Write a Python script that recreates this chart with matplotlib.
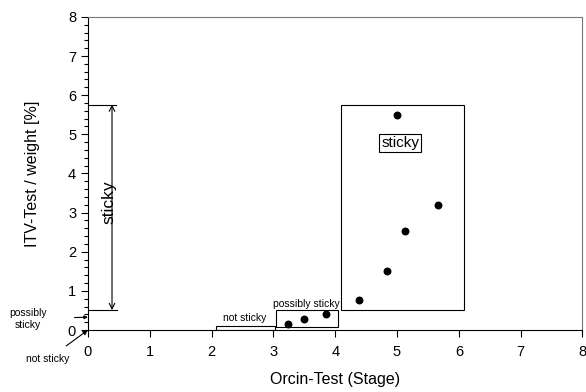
import matplotlib
matplotlib.use('Agg')
import matplotlib.pyplot as plt
from matplotlib.patches import Rectangle
from matplotlib.ticker import MultipleLocator

plt.rcParams['font.family'] = ['Liberation Sans', 'DejaVu Sans']

# data
orcin = [3.23, 3.50, 3.85, 4.39, 4.84, 5.13, 5.66, 5.00]
itv = [0.15, 0.28, 0.40, 0.77, 1.51, 2.54, 3.19, 5.49]

# classification boxes: (x0, y0, x1, y1)
box_not = (2.07, 0.0, 3.02, 0.11)
box_poss = (3.04, 0.09, 4.05, 0.50)
box_sticky = (4.10, 0.51, 6.09, 5.76)

fig = plt.figure(figsize=(5.86, 3.92), dpi=100)
ax = fig.add_axes([0.150, 0.158, 0.844, 0.799])

ax.scatter(orcin, itv, s=22, color='black', zorder=3)

for (x0, y0, x1, y1) in [box_not, box_poss, box_sticky]:
    ax.add_patch(Rectangle((x0, y0), x1 - x0, y1 - y0, fill=False,
                           edgecolor='black', lw=0.8))

ax.text(2.53, 0.17, 'not sticky', fontsize=7.5, ha='center', va='bottom')
ax.text(3.53, 0.55, 'possibly sticky', fontsize=7.5, ha='center', va='bottom')
ax.text(5.05, 4.77, 'sticky', fontsize=11, ha='center', va='center',
        bbox=dict(boxstyle='square,pad=0.12', fc='white', ec='black', lw=0.8))

# bracket on the left for the "sticky" range
ax.plot([0, 0.45], [5.76, 5.76], color='black', lw=0.8)
ax.plot([0, 0.47], [0.51, 0.51], color='black', lw=0.8)
ax.annotate('', xy=(0.39, 5.76), xytext=(0.39, 0.51),
            arrowprops=dict(arrowstyle='<->', lw=0.8, color='black',
                            shrinkA=0, shrinkB=0))
ax.text(0.34, 3.26, 'sticky', rotation=90, fontsize=12.5, ha='center', va='center')

# markers outside the axes
ax.annotate('possibly\nsticky', xy=(0, 0.33), xytext=(-0.97, 0.28),
            fontsize=7.5, ha='center', va='center', annotation_clip=False,
            arrowprops=dict(arrowstyle='-|>', lw=0.8, color='black',
                            shrinkA=18, shrinkB=0, mutation_scale=5))
ax.annotate('not sticky', xy=(0, 0), xytext=(-0.65, -0.75),
            fontsize=7.5, ha='center', va='center', annotation_clip=False,
            arrowprops=dict(arrowstyle='-|>', lw=0.8, color='black',
                            shrinkA=7, shrinkB=0, mutation_scale=7))

ax.set_xlim(0, 8)
ax.set_ylim(0, 8)
ax.xaxis.set_major_locator(MultipleLocator(1))
ax.yaxis.set_major_locator(MultipleLocator(1))
ax.yaxis.set_minor_locator(MultipleLocator(0.2))
ax.tick_params(axis='both', labelsize=10.5, direction='out', length=5, width=0.8)
ax.tick_params(axis='y', which='minor', length=3, width=0.8)
ax.tick_params(axis='x', pad=6)

for side in ['top', 'right']:
    ax.spines[side].set_color('#777777')
for side in ['left', 'bottom']:
    ax.spines[side].set_linewidth(0.8)

ax.set_xlabel('Orcin-Test (Stage)', fontsize=11.5, labelpad=9)
ax.set_ylabel('ITV-Test / weight [%]', fontsize=11.5, labelpad=20)

fig.savefig('out.png', dpi=100)
